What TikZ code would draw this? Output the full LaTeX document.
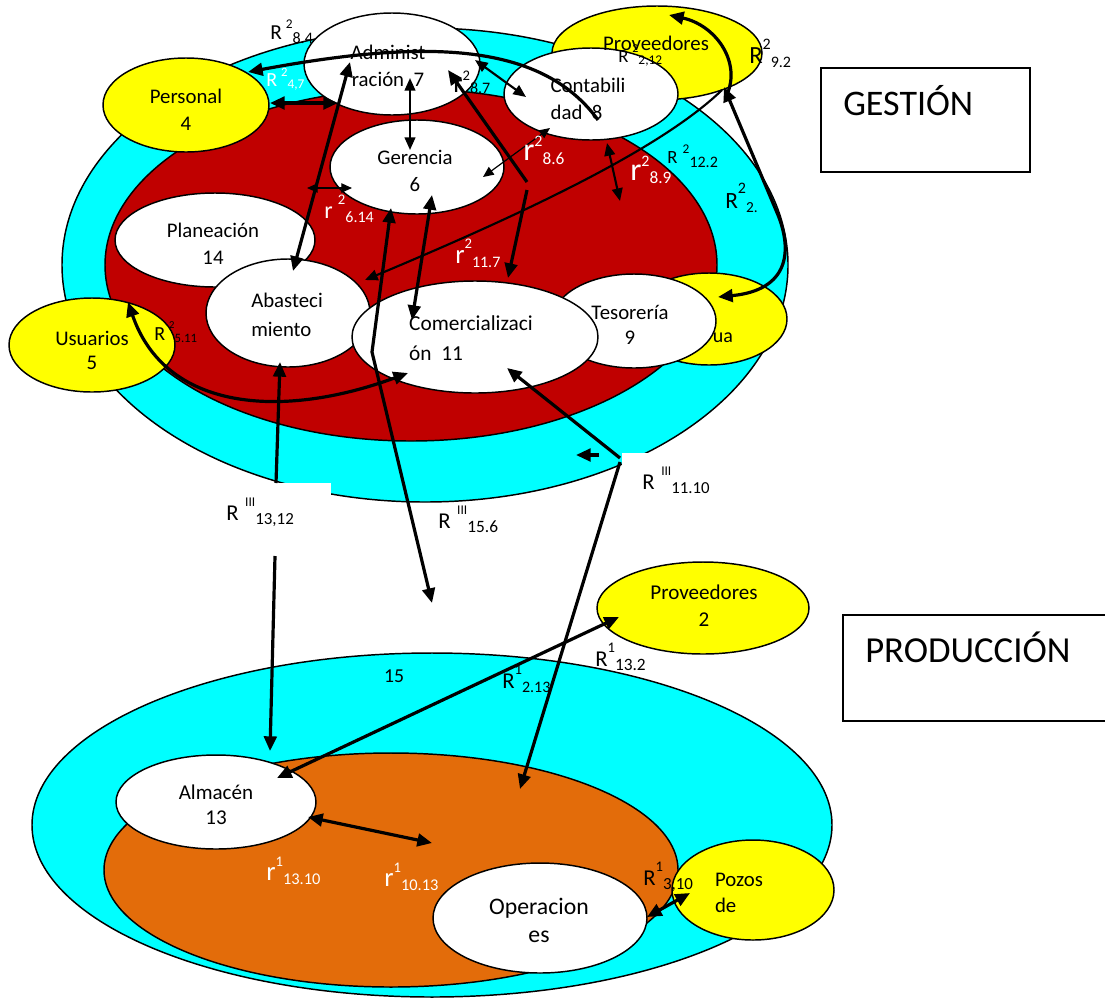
\documentclass[tikz,border=0pt]{standalone}
\usepackage{fontspec}
\setmainfont{Carlito}
\usetikzlibrary{shapes.geometric,arrows.meta}
\definecolor{aqua}{RGB}{0,255,255}
\definecolor{crimson}{RGB}{192,0,0}
\definecolor{lemon}{RGB}{255,255,0}
\definecolor{rust}{RGB}{227,108,10}
% relation label: letter, superscript, subscript (sizes and vertical offsets given)
\newcommand\lbl[8]{{\fontsize{#1}{#1}\selectfont #2}\raisebox{#7}{\fontsize{#3}{#3}\selectfont #4}\raisebox{-#8}{\fontsize{#5}{#5}\selectfont #6}}
\tikzset{
  oval/.style 2 args={ellipse, draw=black, line width=1.1pt, inner sep=0pt,
    minimum width={#1*1.5pt}, minimum height={#2*1.5pt}},
  txt/.style={inner sep=0pt, align=center, font=\fontsize{15.6}{20}\selectfont},
  lab/.style={inner sep=0pt, anchor=base west},
  arrH/.style={line width=2.4pt, >={Triangle[length=11pt,width=9.5pt]}},
  arrM/.style={line width=1.6pt, >={Triangle[length=9.5pt,width=8pt]}},
  arrL/.style={line width=0.9pt, >={Triangle[length=8pt,width=7pt]}},
  blank/.style={fill=white, inner sep=0pt, outer sep=0pt},
}
\begin{document}
\begin{tikzpicture}[x=0.75pt,y=-0.75pt]
\useasboundingbox (0,0) rectangle (1105,1000);

% ================= management =================
\node[oval={363}{237}, fill=aqua] (gest) at (425,265) {};
\node[oval={306}{176}, fill=crimson] (core) at (411,265) {};
\node[oval={83}{47}, fill=lemon] (per) at (186,105) {};
\node[oval={105}{47}, fill=lemon] (prv) at (657,53) {};
\node[oval={83}{47}, fill=lemon] (usu) at (92,345) {};
\node[oval={78}{46}, fill=lemon] (agu) at (709,319) {};
\node[txt, font=\fontsize{15}{20}\selectfont] (tagu) at (723,338) {ua};
\node[oval={100}{47}, fill=white] (pla) at (215,240) {};
\node[oval={82}{54}, fill=white] (aba) at (288,313) {};
\node[oval={88}{51}, fill=white] (adm) at (392,64) {};
\node[oval={87}{47}, fill=white] (ger) at (417,167) {};
\node[oval={87}{46}, fill=white] (con) at (591,94) {};
\node[oval={82}{47}, fill=white] (tes) at (634,321) {};
\node[oval={123}{56}, fill=white] (com) at (475,337) {};

\node[txt] (tper) at (186,110) {Personal\\4};
\node[txt] (tprv) at (656,43) {Proveedores};
\node[txt, font=\fontsize{15.6}{18}\selectfont] (tusu) at (92,350) {Usuarios\\5};
\node[txt] (tpla) at (213,244) {Planeación\\14};
\node[txt, align=left, font=\fontsize{15.6}{22}\selectfont] (taba) at (287,315) {Abasteci\\miento};
\node[txt] (tadm) at (388,66) {Administ\\ración\ \ 7};
\node[txt] (tger) at (415,171) {Gerencia\\6};
\node[txt, align=left] (tcon) at (588,99) {Contabili\\dad\ \ 8};
\node[txt, font=\fontsize{15.6}{19}\selectfont] (ttes) at (630,325) {Tesorería\\9};
\node[txt, align=left, font=\fontsize{16}{22.5}\selectfont] (tcom) at (471,338) {Comercializaci\\ón\ \ 11};

% label backgrounds
\node[blank, minimum width={109*0.75pt}, minimum height={73*0.75pt}] (bxa) at (276.5,519.5) {};
\node[blank, minimum width={100*0.75pt}, minimum height={47*0.75pt}] (bxb) at (672,476.5) {};

% title boxes
\node[draw, line width=1.3pt, inner sep=0pt, minimum width={209*0.75pt}, minimum height={104*0.75pt}] (bges) at (925.5,120) {};
\node[lab, font=\fontsize{27}{27}\selectfont] (tges) at (843,115) {GESTIÓN};
\node[draw, line width=1.3pt, inner sep=0pt, minimum width={270*0.75pt}, minimum height={106*0.75pt}] (bpro) at (978,668) {};
\node[lab, font=\fontsize{27.5}{27.5}\selectfont] (tpro) at (865,662) {PRODUCCIÓN};

% ================= production =================
\node[oval={400}{172}, fill=aqua] (prod) at (432,825) {};
\node[oval={287}{117}, fill=rust] (ops) at (391,870) {};
\node[oval={106}{46}, fill=lemon] (prv2) at (703,608) {};
\node[oval={100}{47}, fill=white] (alm) at (216,802) {};
\node[oval={107}{55}, fill=white] (ope) at (540,918) {};
\node[oval={81}{50}, fill=lemon] (poz) at (753,890) {};

\node[txt, font=\fontsize{15.8}{20}\selectfont] (tprv2) at (704,606) {Proveedores\\2};
\node[txt, font=\fontsize{15.8}{19}\selectfont] (talm) at (216,805) {Almacén\\13};
\node[txt, font=\fontsize{17.8}{21}\selectfont] (tope) at (539,920) {Operacion\\es};
\node[txt, align=left] (tpoz) at (739,893) {Pozos\\de};
\node[txt, font=\fontsize{14.8}{18}\selectfont] (t15) at (394,676) {15};

% ================= connector ends =================
\coordinate (k84a) at (598,120);  \coordinate (k84b) at (248,72);
\coordinate (p47a) at (270,103);  \coordinate (p47b) at (338,103);
\coordinate (g76a) at (410,78);   \coordinate (g76b) at (410,150);
\coordinate (a127a) at (293,271); \coordinate (a127b) at (350,62);
\coordinate (r614a) at (307,188); \coordinate (r614b) at (352,188);
\coordinate (g611a) at (432,195); \coordinate (g611b) at (412,320);
\coordinate (g156a) at (391,208); \coordinate (g156m) at (372,352); \coordinate (g156b) at (432,603);
\coordinate (r87a) at (475,60);   \coordinate (r87b) at (526,97);
\coordinate (r117a) at (527,182); \coordinate (r117b) at (448,70);
\coordinate (r117c) at (527,190); \coordinate (r117d) at (508,278);
\coordinate (r86a) at (550,128);  \coordinate (r86b) at (483,177);
\coordinate (r89a) at (607,143);  \coordinate (r89b) at (620,201);
\coordinate (r122a) at (365,280); \coordinate (r122b) at (722,90);
\coordinate (r92a) at (728,92);   \coordinate (r92b) at (669,15);
\coordinate (r2a) at (724,87);    \coordinate (r2m) at (778,215); \coordinate (r2b) at (718,297);
\coordinate (r511a) at (128,302); \coordinate (r511b) at (408,373);
\coordinate (r1312a) at (276,483); \coordinate (r1312b) at (280,362);
\coordinate (r1312c) at (275,556); \coordinate (r1312d) at (270,751);
\coordinate (r1110a) at (620,458); \coordinate (r1110b) at (507,368);
\coordinate (r1110c) at (620,462); \coordinate (r1110d) at (520,789);
\coordinate (sa) at (599,455);    \coordinate (sb) at (576,455);
\coordinate (r213a) at (619,617); \coordinate (r213b) at (277,778);
\coordinate (r1310a) at (308,817); \coordinate (r1310b) at (432,843);
\coordinate (r310a) at (647,917); \coordinate (r310b) at (690,893);

% ================= connectors =================
\draw[arrH,->] (k84a) .. controls (540,40) and (420,40) .. (k84b);
\draw[arrH,<->] (p47a) -- (p47b);
\draw[arrM,<->] (g76a) -- (g76b);
\draw[arrH,<->] (a127a) -- (a127b);
\draw[arrL,<->] (r614a) -- (r614b);
\draw[arrH,<->] (g611a) -- (g611b);
\draw[arrH,<->] (g156a) -- (g156m) -- (g156b);
\draw[arrM,<->] (r87a) -- (r87b);
\draw[arrH,->] (r117a) -- (r117b);
\draw[arrH,->] (r117c) -- (r117d);
\draw[arrL,<->] (r86a) -- (r86b);
\draw[arrM,<->] (r89a) -- (r89b);
\draw[arrM,->] (r122b) .. controls (660,150) and (520,215) .. (r122a);
\draw[arrH,->] (r92a) .. controls (740,60) and (715,25) .. (r92b);
\draw[arrH,<->] (r2a) -- (r2m) .. controls (792,250) and (790,290) .. (r2b);
\draw[arrH,<->] (r511a) .. controls (165,410) and (280,420) .. (r511b);
\draw[arrH,->] (r1312a) -- (r1312b);
\draw[arrH,->] (r1110a) -- (r1110b);
\draw[arrH,->] (r1110c) -- (r1110d);
\draw[arrH,->] (sa) -- (sb);
\draw[arrH,->] (r1312c) -- (r1312d);
\draw[arrH,<->] (r213a) -- (r213b);
\draw[arrH,<->] (r1310a) -- (r1310b);
\draw[arrH,<->] (r310a) -- (r310b);

% ================= relation labels =================
\node[lab] (l84) at (270,39) {\lbl{16}{R\hspace{3pt}}{10}{2}{12}{8.4}{8pt}{3pt}};
\node[lab, text=white] (l47) at (266,86) {\lbl{15}{R\hspace{3pt}}{9.5}{2}{10}{4,7}{7pt}{1.5pt}};
\node[lab] (l87) at (453,92) {\lbl{20}{r}{11}{2}{12}{8.7}{9pt}{1pt}};
\node[lab, text=white] (l614) at (324,218) {\lbl{18}{r\hspace{4pt}}{11}{2}{12}{6.14}{10pt}{3pt}};
\node[lab, text=white] (l86) at (523,160) {\lbl{24}{r}{12}{2}{13}{8.6}{10pt}{3.5pt}};
\node[lab, text=white] (l89) at (630,180) {\lbl{24}{r}{12}{2}{13}{8.9}{10pt}{2.5pt}};
\node[lab, text=white] (l117) at (455,263) {\lbl{20}{r}{11}{2}{12}{11.7}{11pt}{3pt}};
\node[lab] (l122) at (667,163) {\lbl{14}{R\hspace{4pt}}{10}{2}{12}{12.2}{7.5pt}{3.5pt}};
\node[lab] (l92) at (749,63) {\lbl{18.5}{R}{12}{2}{12}{9.2}{10pt}{3.5pt}};
\node[lab] (l22) at (725,208) {\lbl{17.5}{R}{12}{2}{11.5}{2.}{11pt}{3.5pt}};
\node[lab] (l212) at (618,62) {\lbl{14}{R\hspace{3pt}}{9}{2}{10}{2,12}{7pt}{2pt}};
\node[lab] (l511) at (154,340) {\lbl{15}{R\hspace{3pt}}{8}{2}{9.6}{5.11}{9pt}{1.5pt}};
\node[lab] (l1312) at (226,520) {\lbl{17}{R\hspace{5pt}}{10}{III}{12.7}{13,12}{10.5pt}{3.5pt}};
\node[lab] (l156) at (438,528) {\lbl{17}{R\hspace{5pt}}{10}{III}{13}{15.6}{10.5pt}{3.5pt}};
\node[lab] (l1110) at (642,489) {\lbl{17}{R\hspace{5pt}}{10}{III}{12.6}{11.10}{10.5pt}{3pt}};
\node[lab] (l213) at (502,688) {\lbl{17}{R}{11}{1}{12}{2.13}{10pt}{3pt}};
\node[lab] (l132) at (595,666) {\lbl{17}{R}{11}{1}{13}{13.2}{10pt}{3pt}};
\node[lab, text=white] (l1310) at (266,880) {\lbl{20}{r}{11}{1}{12.3}{13.10}{10pt}{3.5pt}};
\node[lab, text=white] (l1013) at (384,886) {\lbl{20}{r}{11}{1}{12.3}{10.13}{10pt}{3.5pt}};
\node[lab] (l310) at (643,885) {\lbl{17}{R}{11}{1}{12.7}{3,10}{10pt}{3pt}};
\end{tikzpicture}
\end{document}
